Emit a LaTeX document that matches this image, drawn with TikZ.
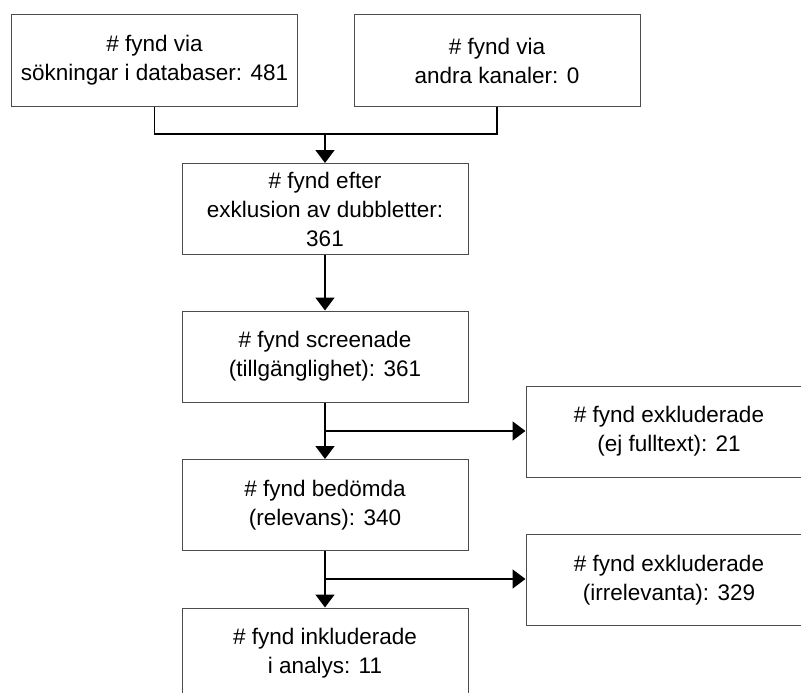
\documentclass[tikz,border=0pt]{standalone}
\usepackage{fontspec}
\setmainfont{Liberation Sans}
\usetikzlibrary{arrows.meta}

\begin{document}
\begin{tikzpicture}[x=1pt,y=-1pt,
  >={Triangle[width=19pt,length=13pt]},
  box/.style={draw=black!70,line width=1pt,minimum width=286pt,minimum height=91pt,
    inner sep=0pt,align=center,text=black,font=\fontsize{22.5}{29}\selectfont},
  pil/.style={line width=1.7pt,->}]
        \useasboundingbox (0,0) rectangle (801,693);
        \clip (0,0) rectangle (801,693);
        % rutor
        \node[box] (sok) at (154.5,60.5) {\# fynd via\\sökningar i databaser: 481};
        \node[box] (kanal) at (497,60.5) {\# fynd via\\andra kanaler: 0};
        \node[box] (dubbl) at (325,209) {\# fynd efter\\exklusion av dubbletter:\\361};
        \node[box] (screen) at (325,356.5) {\# fynd screenade\\(tillgänglighet): 361};
        \node[box] (ejfull) at (669,431.5) {\# fynd exkluderade\\(ej fulltext): 21};
        \node[box] (bedomda) at (325,505) {\# fynd bedömda\\(relevans): 340};
        \node[box] (irrel) at (669,580) {\# fynd exkluderade\\(irrelevanta): 329};
        \node[box] (inkl) at (325,653.5) {\# fynd inkluderade\\i analys: 11};
        % sammanslagning
        \coordinate (samman) at (325,134);
        \draw[pil,-] (sok.south) |- (samman) -| (kanal.south);
        \draw[pil] (samman) -- (dubbl.north);
        \draw[pil] (dubbl) -- (screen);
        % exkluderade
        \draw[pil] (screen) -- (bedomda);
        \coordinate (gren1) at (325,431);
        \draw[pil] (gren1) -- (gren1 -| ejfull.west);
        \draw[pil] (bedomda) -- (inkl);
        \coordinate (gren2) at (325,579);
        \draw[pil] (gren2) -- (gren2 -| irrel.west);
\end{tikzpicture}
\end{document}
